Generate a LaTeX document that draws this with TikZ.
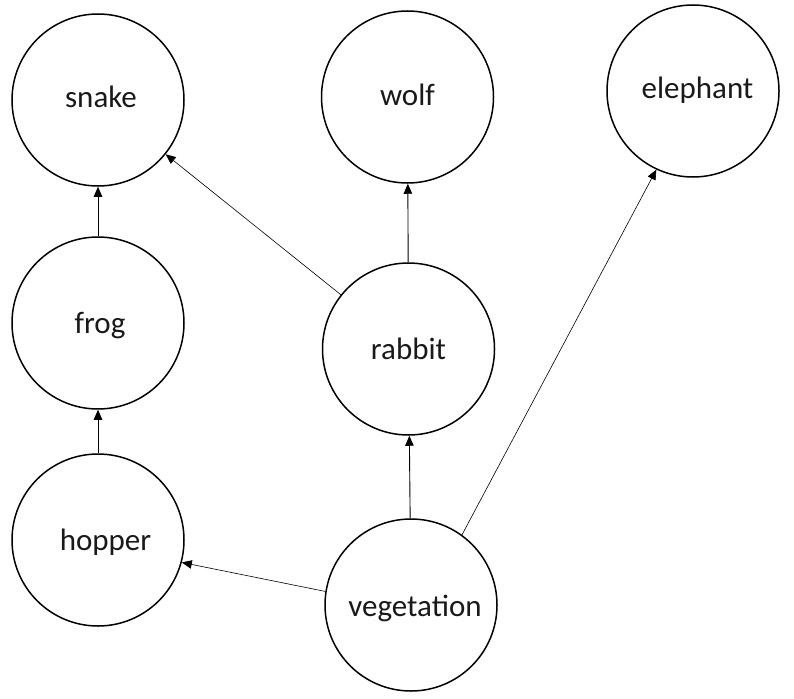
\documentclass[tikz,border=0pt]{standalone}
\usepackage{fontspec}
\setmainfont{Carlito}
\usetikzlibrary{arrows.meta}
\begin{document}
\begin{tikzpicture}[x=1pt,y=-1pt,
  animal/.style={circle,draw,line width=1.5pt,minimum size=172pt,inner sep=0pt},
  lbl/.style={anchor=base,font=\fontsize{31}{36}\selectfont,inner sep=0pt,text=black!90},
  link/.style={-{Triangle[length=10pt,width=8.5pt]},line width=0.9pt},
  thinlink/.style={-{Triangle[length=10pt,width=8.5pt]},line width=0.6pt}]
\useasboundingbox (0,0) rectangle (794,698);
\node[animal] (snake) at (98,100) {};
\node[animal] (wolf) at (407.5,97) {};
\node[animal] (eleph) at (693,91) {};
\node[animal] (frog) at (98,323) {};
\node[animal] (rabbit) at (408.5,349) {};
\node[animal] (hopper) at (98,540) {};
\node[animal] (veg) at (411,605) {};
\node[lbl] (tsnake) at ([xshift=3pt,yshift=-8pt]snake.center) {snake};
\node[lbl] (twolf) at ([xshift=0pt,yshift=-9pt]wolf.center) {wolf};
\node[lbl] (teleph) at ([xshift=4.5pt,yshift=-8pt]eleph.center) {elephant};
\node[lbl] (tfrog) at ([xshift=2pt,yshift=-10pt]frog.center) {frog};
\node[lbl] (trabbit) at ([xshift=0pt,yshift=-10pt]rabbit.center) {rabbit};
\node[lbl] (thopper) at ([xshift=7.5pt,yshift=-10pt]hopper.center) {hopper};
\node[lbl] (tveg) at ([xshift=4pt,yshift=-11pt]veg.center) {vegetation};
\draw[link] (frog) -- (snake);
\draw[link] (hopper) -- (frog);
\draw[link] (rabbit) -- (wolf);
\draw[link] (veg) -- (rabbit);
\draw[thinlink] (rabbit) -- (snake);
\draw[thinlink] (veg.54) -- (eleph.245);
\draw[thinlink] (veg.171) -- (hopper.345);
\end{tikzpicture}
\end{document}
